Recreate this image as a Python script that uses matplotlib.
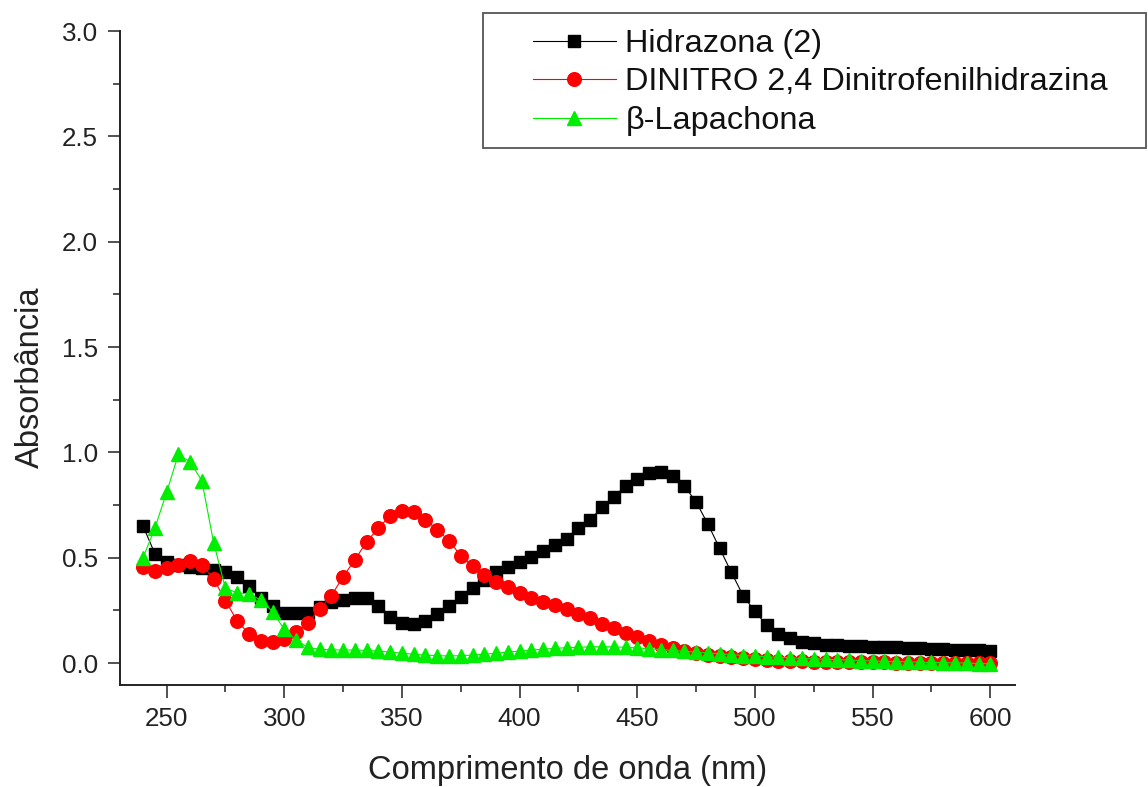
import matplotlib
matplotlib.use("Agg")
import matplotlib.pyplot as plt
from matplotlib.patches import Rectangle
from matplotlib.ticker import MultipleLocator

plt.rcParams['font.family'] = ['Liberation Sans', 'DejaVu Sans']

wavelength = list(range(240, 601, 5))

hidrazona = [0.65, 0.52, 0.48, 0.465, 0.455, 0.45, 0.44, 0.43, 0.41, 0.365,
             0.31, 0.27, 0.24, 0.236, 0.24, 0.265, 0.29, 0.30, 0.31, 0.31,
             0.27, 0.22, 0.19, 0.185, 0.20, 0.235, 0.27, 0.315, 0.355, 0.395,
             0.43, 0.455, 0.48, 0.505, 0.53, 0.56, 0.59, 0.64, 0.68, 0.74,
             0.79, 0.84, 0.875, 0.90, 0.905, 0.89, 0.84, 0.765, 0.66, 0.545,
             0.43, 0.32, 0.245, 0.18, 0.14, 0.117, 0.10, 0.093, 0.088, 0.085,
             0.082, 0.08, 0.078, 0.076, 0.074, 0.072, 0.07, 0.068, 0.066, 0.064,
             0.062, 0.06, 0.058]

dinitro = [0.457, 0.435, 0.45, 0.465, 0.485, 0.465, 0.40, 0.296, 0.20, 0.138,
           0.106, 0.10, 0.112, 0.149, 0.19, 0.256, 0.32, 0.41, 0.49, 0.576,
           0.64, 0.70, 0.723, 0.718, 0.68, 0.634, 0.58, 0.51, 0.46, 0.418,
           0.386, 0.36, 0.334, 0.31, 0.29, 0.275, 0.258, 0.235, 0.212, 0.185,
           0.165, 0.144, 0.122, 0.104, 0.085, 0.07, 0.058, 0.048, 0.04, 0.033,
           0.027, 0.022, 0.018, 0.015, 0.012, 0.01, 0.008, 0.007, 0.006, 0.005,
           0.004, 0.004, 0.003, 0.003, 0.002, 0.002, 0.001, 0.001, 0.0, 0.0,
           0.0, -0.001, -0.001]

lapachona = [0.50, 0.64, 0.81, 0.99, 0.955, 0.865, 0.57, 0.355, 0.334, 0.327,
             0.30, 0.244, 0.16, 0.109, 0.075, 0.065, 0.063, 0.062, 0.062, 0.06,
             0.057, 0.052, 0.047, 0.042, 0.038, 0.035, 0.034, 0.035, 0.038, 0.042,
             0.047, 0.052, 0.057, 0.062, 0.066, 0.07, 0.073, 0.075, 0.077, 0.078,
             0.077, 0.075, 0.072, 0.068, 0.064, 0.06, 0.056, 0.052, 0.048, 0.044,
             0.04, 0.036, 0.033, 0.03, 0.027, 0.025, 0.022, 0.02, 0.018, 0.016,
             0.014, 0.012, 0.01, 0.008, 0.007, 0.006, 0.004, 0.003, 0.002, 0.001,
             0.0, -0.002, -0.003]

labels = ["Hidrazona (2)", "DINITRO 2,4 Dinitrofenilhidrazina", "\u03b2-Lapachona"]

W, H = 1148, 787
fig = plt.figure(figsize=(W / 100, H / 100), dpi=100)
ax = fig.add_axes([120 / W, 1 - 685 / H, (1015 - 120) / W, (685 - 31) / H])

l1, = ax.plot(wavelength, hidrazona, color='black', lw=0.8, marker='s', ms=8.6,
              mec='black', mfc='black', label=labels[0])
l2, = ax.plot(wavelength, dinitro, color='#ff0000', lw=0.8, marker='o', ms=9.8,
              mec='#ff0000', mfc='#ff0000', label=labels[1])
l3, = ax.plot(wavelength, lapachona, color='#00ee00', lw=0.8, marker='^', ms=10.5,
              mec='#00ee00', mfc='#00ee00', label=labels[2])

ax.set_xlim(230.2, 610.5)
ax.set_ylim(-0.104, 3.0)
ax.xaxis.set_major_locator(MultipleLocator(50))
ax.xaxis.set_minor_locator(MultipleLocator(25))
ax.yaxis.set_major_locator(MultipleLocator(0.5))
ax.yaxis.set_minor_locator(MultipleLocator(0.25))
ax.yaxis.set_major_formatter(matplotlib.ticker.FormatStrFormatter('%.1f'))

for s in ['top', 'right']:
    ax.spines[s].set_visible(False)
for s in ['left', 'bottom']:
    ax.spines[s].set_linewidth(1.4)
    ax.spines[s].set_color('#222222')

ax.tick_params(which='major', direction='out', length=9, width=1.1,
               labelsize=18.7, colors='#222222', pad=7)
ax.tick_params(which='minor', direction='out', length=5, width=1.1, colors='#222222')

ax.set_xlabel("Comprimento de onda (nm)", fontsize=23.5, color='#222222')
ax.set_ylabel("Absorb\u00e2ncia", fontsize=23.5, color='#222222')
ax.xaxis.set_label_coords(0.5, (787 - 770 - 102) / 654)
ax.xaxis.label.set_verticalalignment('center')
ax.yaxis.set_label_coords((30 - 120) / 895, 0.47)
ax.yaxis.label.set_verticalalignment('center')

# legend frame
fig.patches.append(Rectangle((483.3 / W, 1 - 147.5 / H), (1146 - 483.3) / W,
                             (147.5 - 12.7) / H, transform=fig.transFigure,
                             fill=True, facecolor='white', edgecolor='#555555',
                             linewidth=1.3, zorder=0))

leg = fig.legend(handles=[l1, l2, l3], labels=labels, loc='upper left',
                 bbox_to_anchor=(532.7 / W, 1 - 29 / H),
                 bbox_transform=fig.transFigure, frameon=False,
                 fontsize=23.4, borderpad=0, borderaxespad=0,
                 handlelength=2.55, handletextpad=0.3, labelspacing=0.26,
                 markerscale=1.0)
for t in leg.get_texts():
    t.set_color('#111111')

fig.savefig("out.png", dpi=100)
